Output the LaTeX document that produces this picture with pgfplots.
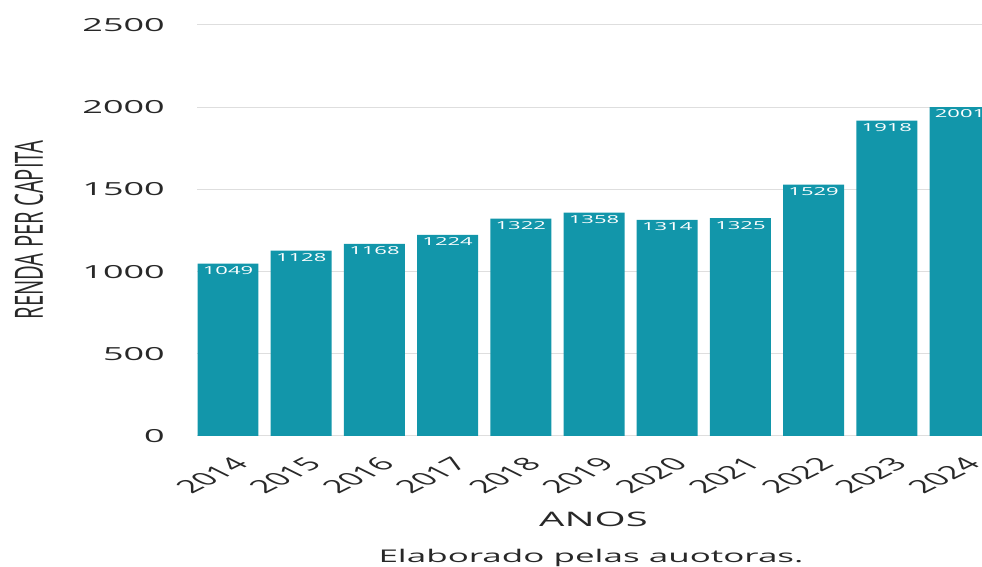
\documentclass[border=0pt]{standalone}
\usepackage{fontspec}
\setmainfont{Open Sans}
\newfontfamily\widefont[FakeStretch=2]{Open Sans}
\newfontfamily\narrowfont[FakeStretch=0.52]{Open Sans}
\usepackage{pgfplots}
\pgfplotsset{compat=1.18}
\definecolor{barteal}{RGB}{18,150,170}
\definecolor{gridgray}{RGB}{222,222,222}
\definecolor{textgray}{RGB}{40,40,40}

\begin{document}
\begin{tikzpicture}
\path[use as bounding box] (0,0) rectangle (982pt,567pt);
\begin{axis}[
    at={(197pt,131pt)}, anchor=south west,
    width=785pt, height=411pt, scale only axis,
    xmin=-0.4235, xmax=10.30, ymin=0, ymax=2500,
    ytick={0,500,...,2500},
    xtick={0,...,10},
    xticklabels={2014,2015,2016,2017,2018,2019,2020,2021,2022,2023,2024},
    axis line style={draw=none},
    major tick length=0pt,
    ymajorgrids, grid style={gridgray, line width=1pt},
    /pgf/number format/1000 sep={},
    /pgf/number format/assume math mode=true,
    yticklabel style={font=\widefont\fontsize{18}{18}\selectfont, text=textgray,
        anchor=east, inner sep=0pt, xshift=-32pt},
    xticklabel style={font=\fontsize{18}{18}\selectfont, text=textgray,
        inner sep=0pt, anchor=east, xshift=13pt, yshift=-25pt, xscale=2, rotate=45},
    nodes near coords,
    every node near coord/.append style={font=\widefont\fontsize{11}{11}\selectfont,
        text=white, anchor=center, yshift=-7pt},
  ]
\addplot[ybar, bar width=0.833, fill=barteal, draw=none] coordinates {
    (0,1049) (1,1128) (2,1168) (3,1224) (4,1322) (5,1358)
    (6,1314) (7,1325) (8,1529) (9,1918) (10,2001)};
\end{axis}
\node[rotate=90, font=\narrowfont\fontsize{39}{39}\selectfont, text=textgray]
    at (29pt,337pt) {RENDA PER CAPITA};
\node[anchor=base, font=\widefont\fontsize{20}{20}\selectfont, text=textgray]
    at (593.5pt,40pt) {ANOS};
\node[anchor=base, font=\widefont\fontsize{17.5}{17.5}\selectfont, text=textgray]
    at (591pt,4pt) {Elaborado pelas auotoras.};
\end{tikzpicture}
\end{document}
